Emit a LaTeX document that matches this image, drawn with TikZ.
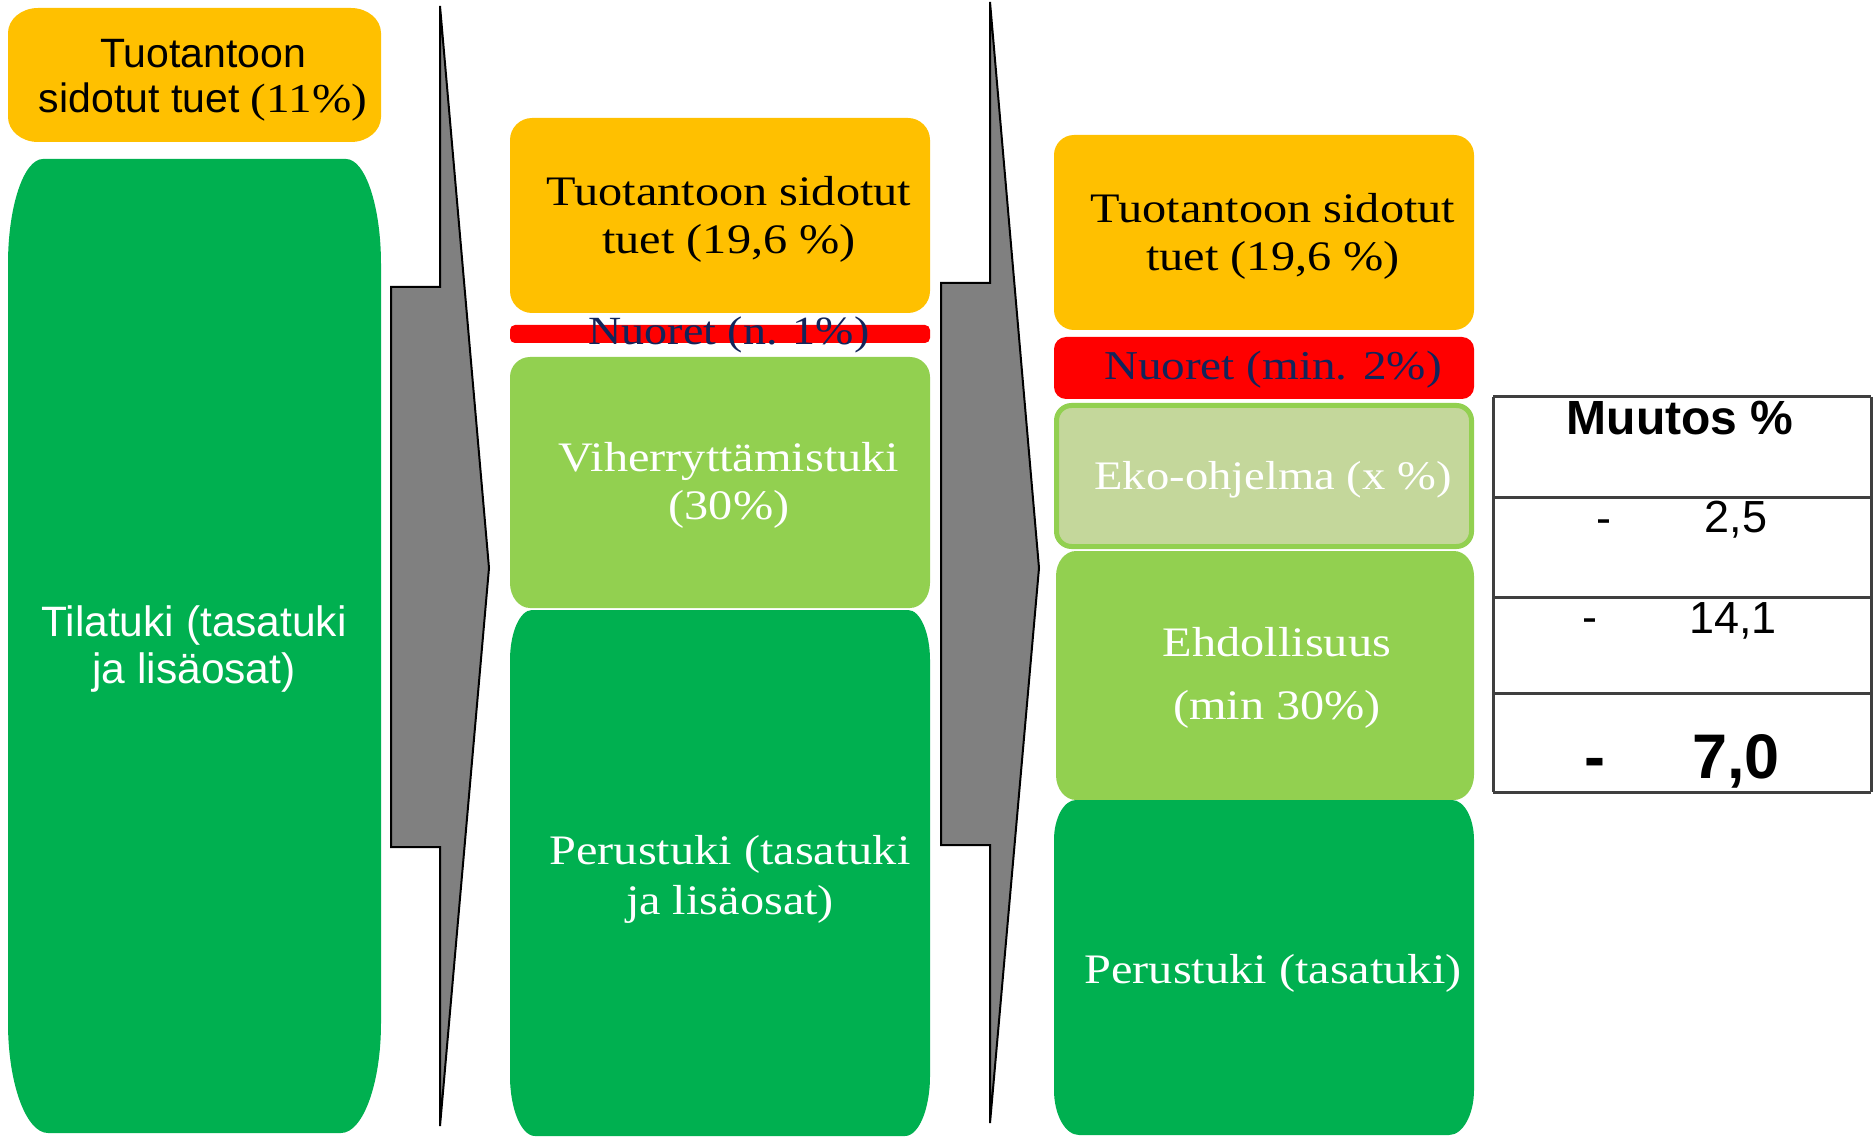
\documentclass[tikz,border=0pt]{standalone}
\usepackage{fontspec}
\setmainfont[FakeStretch=1.15]{Liberation Serif}
\newfontfamily\arialf{Liberation Sans}
\definecolor{cyellow}{HTML}{FFC000}
\definecolor{cdgreen}{HTML}{00B050}
\definecolor{clgreen}{HTML}{92D050}
\definecolor{ceko}{HTML}{C4D79B}
\definecolor{cred}{HTML}{FF0000}
\definecolor{cnavy}{HTML}{12245A}
\definecolor{carrow}{HTML}{808080}
\definecolor{ctable}{HTML}{3F3F3F}
% x1 y1 x2 y2 rx-top ry-top rx-bottom ry-bottom style
\newcommand\rbx[9]{%
\path[#9] (#1+#5,#2) -- (#3-#5,#2)
 .. controls (#3-0.45*#5,#2) and (#3,#2+0.45*#6) .. (#3,#2+#6)
 -- (#3,#4-#8)
 .. controls (#3,#4-0.45*#8) and (#3-0.45*#7,#4) .. (#3-#7,#4)
 -- (#1+#7,#4)
 .. controls (#1+0.45*#7,#4) and (#1,#4-0.45*#8) .. (#1,#4-#8)
 -- (#1,#2+#6)
 .. controls (#1,#2+0.45*#6) and (#1+0.45*#5,#2) .. (#1+#5,#2) -- cycle;}
\begin{document}
\begin{tikzpicture}[x=1pt,y=-1pt,
  sanstxt/.style={font=\arialf\fontsize{41}{45}\selectfont, align=center, inner sep=0pt},
  seriftxt/.style={font=\fontsize{42}{48}\selectfont, align=center, inner sep=0pt},
  navytxt/.style={seriftxt, text=cnavy},
  whitetxt/.style={seriftxt, text=white},
  arrowshape/.style={fill=carrow, draw=black, line width=2pt, line join=miter},
  tline/.style={draw=ctable, line width=3pt},
  tabtxt/.style={font=\arialf\fontsize{45}{50}\selectfont, inner sep=0pt, anchor=base},
  tabbold/.style={font=\arialf\bfseries\fontsize{63}{70}\selectfont, inner sep=0pt, anchor=base}
]
\useasboundingbox (0,0) rectangle (1874,1139);

% ---------- column 1 ----------
\rbx{8}{8}{381}{142}{30}{25}{30}{25}{fill=cyellow}
\rbx{8}{159}{381}{1133}{35}{105}{40}{110}{fill=cdgreen}
\node[sanstxt] (c1top) at (203,80) {Tuotantoon\\sidotut tuet {\rmfamily(11\%)}};
\node[sanstxt, text=white, font=\arialf\fontsize{42.5}{47}\selectfont] (c1main) at (194,649) {Tilatuki (tasatuki\\ja lisäosat)};

% ---------- arrow 1 ----------
\path[arrowshape] (391,287) -- (440,287) -- (440,6) -- (489,568) -- (440,1126) -- (440,847) -- (391,847) -- cycle;

% ---------- column 2 ----------
\rbx{510}{118}{930}{313}{22}{22}{22}{22}{fill=cyellow}
\rbx{510}{325}{930}{343}{5}{5}{5}{5}{fill=cred}
\rbx{510}{357}{930}{608}{20}{20}{20}{25}{fill=clgreen}
\rbx{510}{610}{930}{1136}{22}{50}{25}{60}{fill=cdgreen}
\node[seriftxt] (c2top) at (729,219) {Tuotantoon sidotut\\tuet (19,6 \%)};
\node[navytxt, font=\fontsize{40}{46}\selectfont] (c2young) at (729,335) {Nuoret (n. 1\%)};
\node[whitetxt] (c2green) at (729,485) {Viherryttämistuki\\(30\%)};
\node[whitetxt, font=\fontsize{42}{50}\selectfont] (c2base) at (730,879) {Perustuki (tasatuki\\ja lisäosat)};

% ---------- arrow 2 ----------
\path[arrowshape] (941,283) -- (990,283) -- (990,2) -- (1039,568) -- (990,1123) -- (990,845) -- (941,845) -- cycle;

% ---------- column 3 ----------
\rbx{1054}{135}{1474}{330}{20}{20}{20}{20}{fill=cyellow}
\rbx{1054}{337}{1474}{399}{12}{12}{12}{12}{fill=cred}
\rbx{1056.5}{405.5}{1471.5}{546.5}{15}{15}{15}{15}{fill=ceko, draw=clgreen, line width=5pt}
\rbx{1056}{551}{1474}{800}{20}{25}{20}{25}{fill=clgreen}
\rbx{1054}{800}{1474}{1135}{22}{40}{25}{45}{fill=cdgreen}
\node[seriftxt] (c3top) at (1273,236) {Tuotantoon sidotut\\tuet (19,6 \%)};
\node[navytxt, font=\fontsize{41}{46}\selectfont] (c3young) at (1273,370) {Nuoret (min. 2\%)};
\node[whitetxt, font=\fontsize{40.5}{46}\selectfont] (c3eko) at (1273,480) {Eko-ohjelma (x \%)};
\node[whitetxt, font=\fontsize{42}{63}\selectfont] (c3cond) at (1277,678) {Ehdollisuus\\(min 30\%)};
\node[whitetxt] (c3base) at (1273,973) {Perustuki (tasatuki)};

% ---------- table ----------
\draw[tline] (1493,397) -- (1871,397);
\draw[tline] (1493,497) -- (1871,497);
\draw[tline] (1493,597) -- (1871,597);
\draw[tline] (1493,693) -- (1871,693);
\draw[tline] (1493,792) -- (1871,792);
\draw[tline] (1493,397) -- (1493,792);
\draw[tline] (1871,397) -- (1871,792);
\node[tabtxt, font=\arialf\bfseries\fontsize{48}{52}\selectfont] (thead) at (1680,434) {Muutos \%};
\node[tabtxt] (tm1) at (1604,533) {-};
\node[tabtxt] (tv1) at (1736,532) {2,5};
\node[tabtxt] (tm2) at (1590,632) {-};
\node[tabtxt] (tv2) at (1733,633) {14,1};
\node[tabbold] (tm3) at (1595,778) {-};
\node[tabbold] (tv3) at (1736,778) {7,0};
\end{tikzpicture}
\end{document}
